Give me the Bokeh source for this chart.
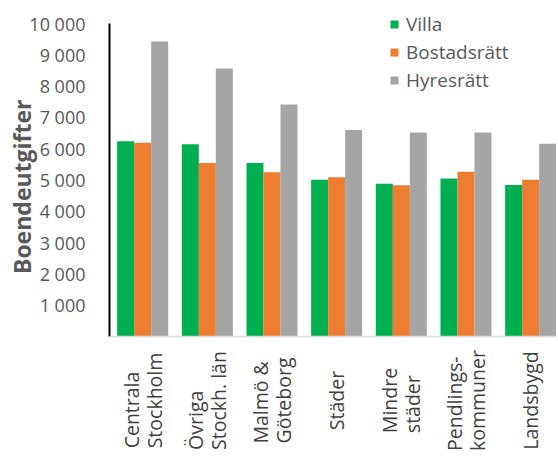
from math import pi
from bokeh.plotting import figure
from bokeh.models import ColumnDataSource, FixedTicker, Range1d, LabelSet, Span
from bokeh.core.properties import value
from bokeh.transform import dodge
from bokeh.embed import file_html
from bokeh.resources import INLINE

categories = ["Centrala\nStockholm", "Övriga\nStockh. län", "Malmö &\nGöteborg",
              "Städer", "Mindre\nstäder", "Pendlings-\nkommuner", "Landsbygd"]
villa = [6240, 6145, 5540, 5005, 4880, 5050, 4840]
bostadsratt = [6190, 5540, 5250, 5090, 4835, 5260, 5005]
hyresratt = [9425, 8560, 7410, 6600, 6520, 6520, 6160]
series_names = ["Villa", "Bostadsrätt", "Hyresrätt"]
y_ticks = [1000, 2000, 3000, 4000, 5000, 6000, 7000, 8000, 9000, 10000]
y_tick_labels = ["1 000", "2 000", "3 000", "4 000", "5 000", "6 000",
                 "7 000", "8 000", "9 000", "10 000"]
y_title = "Boendeutgifter"

idx = list(range(len(categories)))
src = ColumnDataSource(dict(x=idx, label=categories, villa=villa,
                            bostadsratt=bostadsratt, hyresratt=hyresratt))

FONT = "Open Sans"
GRAY_TXT = "#595959"

# frame fills the canvas (except the y-axis panel); value axis 0..10 000 spans 313 px
p = figure(width=556, height=455, x_axis_location=None,
           x_range=Range1d(-0.513, 6.4), y_range=Range1d(-3802, 10735),
           title=y_title, title_location="left",
           output_backend="svg", toolbar_location=None,
           min_border_left=109, min_border_right=0, min_border_top=0, min_border_bottom=0)
p.outline_line_color = None
p.grid.visible = False
p.background_fill_color = "white"
p.border_fill_color = "white"

# y-axis title (drawn as the plot title on the left side)
p.title.text_font = FONT
p.title.text_font_style = "bold"
p.title.text_font_size = "23px"
p.title.text_color = GRAY_TXT
p.title.align = "right"
p.title.vertical_align = "bottom"
p.title.offset = 99
p.title.standoff = -23

bw = 0.263
cols = ["villa", "bostadsratt", "hyresratt"]
colors = ["#00B050", "#ED7D31", "#A5A5A5"]
offsets = [-bw, 0, bw]
for c, col, off, name in zip(cols, colors, offsets, series_names):
    p.vbar(x=dodge("x", off, range=p.x_range), top=c, width=bw, bottom=0, source=src,
           fill_color=col, line_color=None, legend_label=name)

# category axis line (light grey) at value 0
p.add_layout(Span(location=0, dimension="width", line_color="#D9D9D9", line_width=1.5))

cat_labels = LabelSet(x="x", y=0, text="label", source=src, angle=pi / 2,
                      text_align="center", text_baseline="middle", y_offset=-64,
                      text_font=value(FONT), text_font_size="19.5px",
                      text_color="#404040", text_line_height=0.85)
p.add_layout(cat_labels)

# y axis
ya = p.yaxis[0]
ya.bounds = (0, 10000)
ya.ticker = FixedTicker(ticks=y_ticks)
ya.major_label_overrides = {t: l for t, l in zip(y_ticks, y_tick_labels)}
ya.major_tick_line_color = None
ya.minor_tick_line_color = None
ya.axis_line_color = "black"
ya.axis_line_width = 2
ya.major_label_standoff = 18
ya.major_label_text_font = FONT
ya.major_label_text_font_size = "18px"
ya.major_label_text_color = GRAY_TXT

lg = p.legend[0]
lg.location = (280, 362)
lg.padding = 0
lg.margin = 0
lg.spacing = 2
lg.glyph_width = 10
lg.glyph_height = 10
lg.label_standoff = 7
lg.label_text_font = FONT
lg.label_text_font_size = "19px"
lg.label_text_color = GRAY_TXT
lg.background_fill_alpha = 0
lg.border_line_color = None

open("out.html", "w").write(file_html(p, INLINE))
